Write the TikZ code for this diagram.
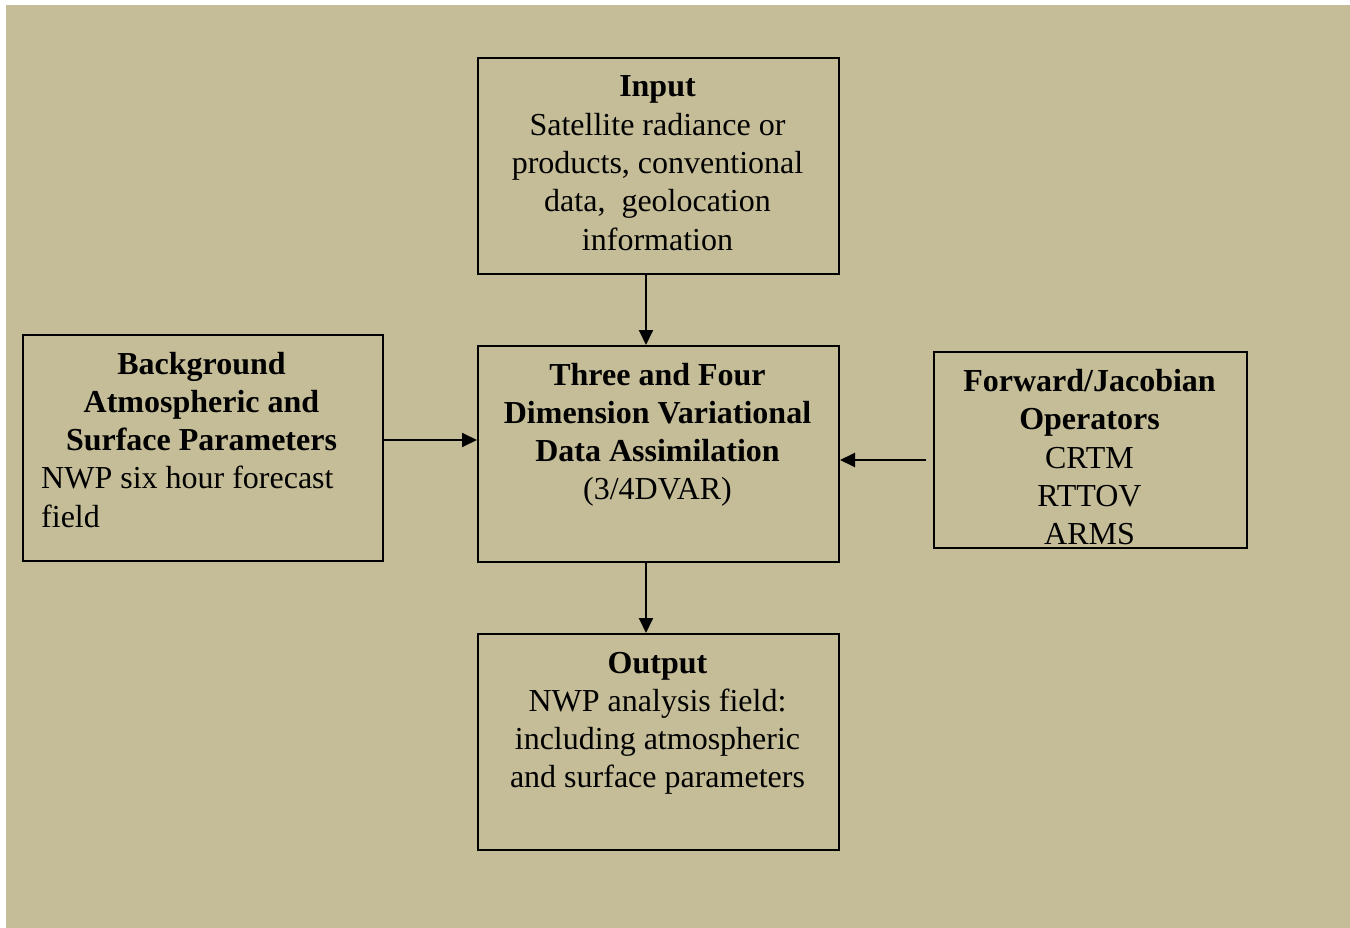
\documentclass[tikz,border=0pt]{standalone}
\usepackage{fontspec}
\setmainfont{Liberation Serif}
\usetikzlibrary{arrows.meta}
\definecolor{tanbg}{HTML}{C4BD97}
\begin{document}
\begin{tikzpicture}[x=1pt,y=-1pt,
  box/.style={draw=black, line width=2pt, rectangle, inner sep=0pt},
  txt/.style={anchor=base, inner sep=0pt, font=\fontsize{32}{38.5}\selectfont},
  txtl/.style={anchor=base west, inner sep=0pt, font=\fontsize{32}{38.5}\selectfont},
  arr/.style={line width=2pt, -{Triangle[length=15pt,width=14pt]}}]
\useasboundingbox (0,0) rectangle (1350,928);
\fill[tanbg] (6,5) rectangle (1350,928);
% boxes
\node[box, minimum width=361pt, minimum height=216pt, anchor=north west] (inp) at (477,57) {};
\node[box, minimum width=361pt, minimum height=216pt, anchor=north west] (ctr) at (477,345) {};
\node[box, minimum width=361pt, minimum height=216pt, anchor=north west] (out) at (477,633) {};
\node[box, minimum width=360pt, minimum height=226pt, anchor=north west] (bg) at (22,334) {};
\node[box, minimum width=313pt, minimum height=196pt, anchor=north west] (fw) at (933,351) {};
% input text
\node[txt] (inp1) at (657.5,97) {\textbf{Input}};
\node[txt] (inp2) at (657.5,135.3) {Satellite radiance or};
\node[txt] (inp3) at (657.5,173.6) {products, conventional};
\node[txt] (inp4) at (657.5,211.9) {data,\ \ geolocation};
\node[txt] (inp5) at (657.5,250.2) {information};
% centre text
\node[txt] (ctr1) at (657.5,385) {\textbf{Three and Four}};
\node[txt] (ctr2) at (657.5,423.3) {\textbf{Dimension Variational}};
\node[txt] (ctr3) at (657.5,461.6) {\textbf{Data Assimilation}};
\node[txt] (ctr4) at (657.5,499.9) {(3/4DVAR)};
% output text
\node[txt] (out1) at (657.5,673) {\textbf{Output}};
\node[txt] (out2) at (657.5,711.3) {NWP analysis field:};
\node[txt] (out3) at (657.5,749.6) {including atmospheric};
\node[txt] (out4) at (657.5,787.9) {and surface parameters};
% background text
\node[txt] (bg1) at (201.5,374) {\textbf{Background}};
\node[txt] (bg2) at (201.5,412.3) {\textbf{Atmospheric and}};
\node[txt] (bg3) at (201.5,450.6) {\textbf{Surface Parameters}};
\node[txtl] (bg4) at (41,488.9) {NWP six hour forecast};
\node[txtl] (bg5) at (41,527.2) {field};
% forward text
\node[txt] (fw1) at (1089.5,391.5) {\textbf{Forward/Jacobian}};
\node[txt] (fw2) at (1089.5,429.8) {\textbf{Operators}};
\node[txt] (fw3) at (1089.5,468.1) {CRTM};
\node[txt] (fw4) at (1089.5,506.4) {RTTOV};
\node[txt] (fw5) at (1089.5,544.7) {ARMS};
% connectors
\coordinate (ax) at (646,0);
\coordinate (ayl) at (0,440);
\coordinate (fwstart) at (926,460);
\draw[arr] (inp.south -| ax) -- (ctr.north -| ax);
\draw[arr] (ctr.south -| ax) -- (out.north -| ax);
\draw[arr] (bg.east |- ayl) -- (ctr.west |- ayl);
\draw[arr] (fwstart) -- (ctr.east |- fwstart);
\end{tikzpicture}
\end{document}
